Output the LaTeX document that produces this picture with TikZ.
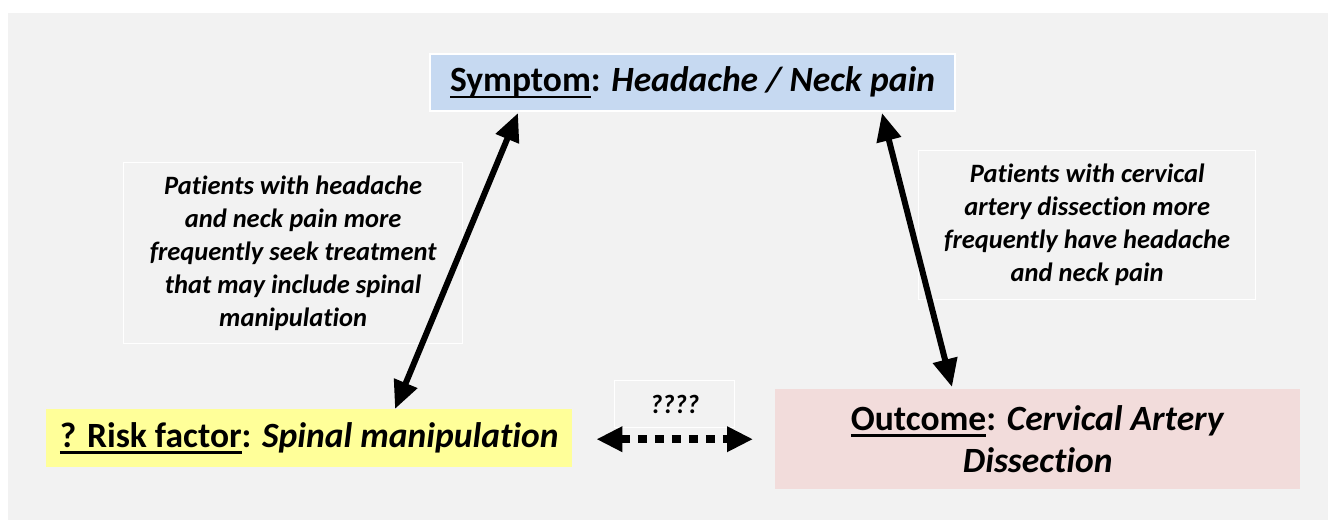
\documentclass[tikz,border=0pt]{standalone}
\usepackage{fontspec}
\setmainfont{Carlito}[Ligatures=NoCommon]
\usetikzlibrary{arrows.meta,calc}
\definecolor{bggray}{HTML}{F2F2F2}
\definecolor{symblue}{HTML}{C6D9F1}
\definecolor{riskyellow}{HTML}{FFFF99}
\definecolor{outpink}{HTML}{F2DCDB}
\newcommand{\ulx}[1]{\setbox0\hbox{#1}\rlap{\rule[-6pt]{\wd0}{2.2pt}}\box0}
\tikzset{
  titlefont/.style={font=\fontsize{35.5}{42}\selectfont\bfseries},
  bodyfont/.style={font=\fontsize{26.5}{33}\selectfont\bfseries\itshape},
  mainbox/.style={inner sep=0pt, anchor=north west, titlefont, align=center},
  notebox/.style={draw=white, line width=1.3pt, fill=bggray, inner sep=0pt, anchor=north west, bodyfont, align=center},
  bigarrow/.style={line width=6pt, {Triangle[length=28pt,width=24pt]}-{Triangle[length=28pt,width=24pt]}},
  dotarrow/.style={line width=8pt, dash pattern=on 9pt off 8pt, {Triangle[length=26pt,width=24pt]}-{Triangle[length=26pt,width=24pt]}}
}
\begin{document}
\begin{tikzpicture}[x=1pt,y=-1pt]
\useasboundingbox (0,0) rectangle (1328,520);
\fill[bggray] (8,13) rectangle (1328,520);
% main boxes
\node[mainbox, draw=white, line width=2pt, fill=symblue, minimum width=525pt, minimum height=57pt] (symptom) at (429,53)
  {\ulx{Symptom}: \textit{Headache / Neck pain}};
\node[mainbox, fill=riskyellow, minimum width=526pt, minimum height=58pt] (risk) at (46,409)
  {\ulx{? Risk factor}: \textit{Spinal manipulation}};
\node[mainbox, fill=outpink, minimum width=525pt, minimum height=100pt] (outcome) at (775,389)
  {\ulx{Outcome}: \textit{Cervical Artery}\\\textit{Dissection}};
% note boxes
\node[notebox, minimum width=339pt, minimum height=181pt] (noteL) at (123,162)
  {Patients with headache\\and neck pain more\\frequently seek treatment\\that may include spinal\\manipulation};
\node[notebox, minimum width=337pt, minimum height=149pt] (noteR) at (918,150)
  {Patients with cervical\\artery dissection more\\frequently have headache\\and neck pain};
\node[notebox, minimum width=120pt, minimum height=47pt] (qbox) at (614,380)
  {????};
% connectors
\draw[bigarrow] ([xshift=349pt]risk.north west) -- ([xshift=89pt,yshift=-1pt]symptom.south west);
\draw[bigarrow] ([xshift=453pt,yshift=-1pt]symptom.south west) -- ([xshift=177pt,yshift=2pt]outcome.north west);
\draw[dotarrow] ($(risk.east)+(24,1)$) -- ($(outcome.west)+(-22,0)$);
\end{tikzpicture}
\end{document}
